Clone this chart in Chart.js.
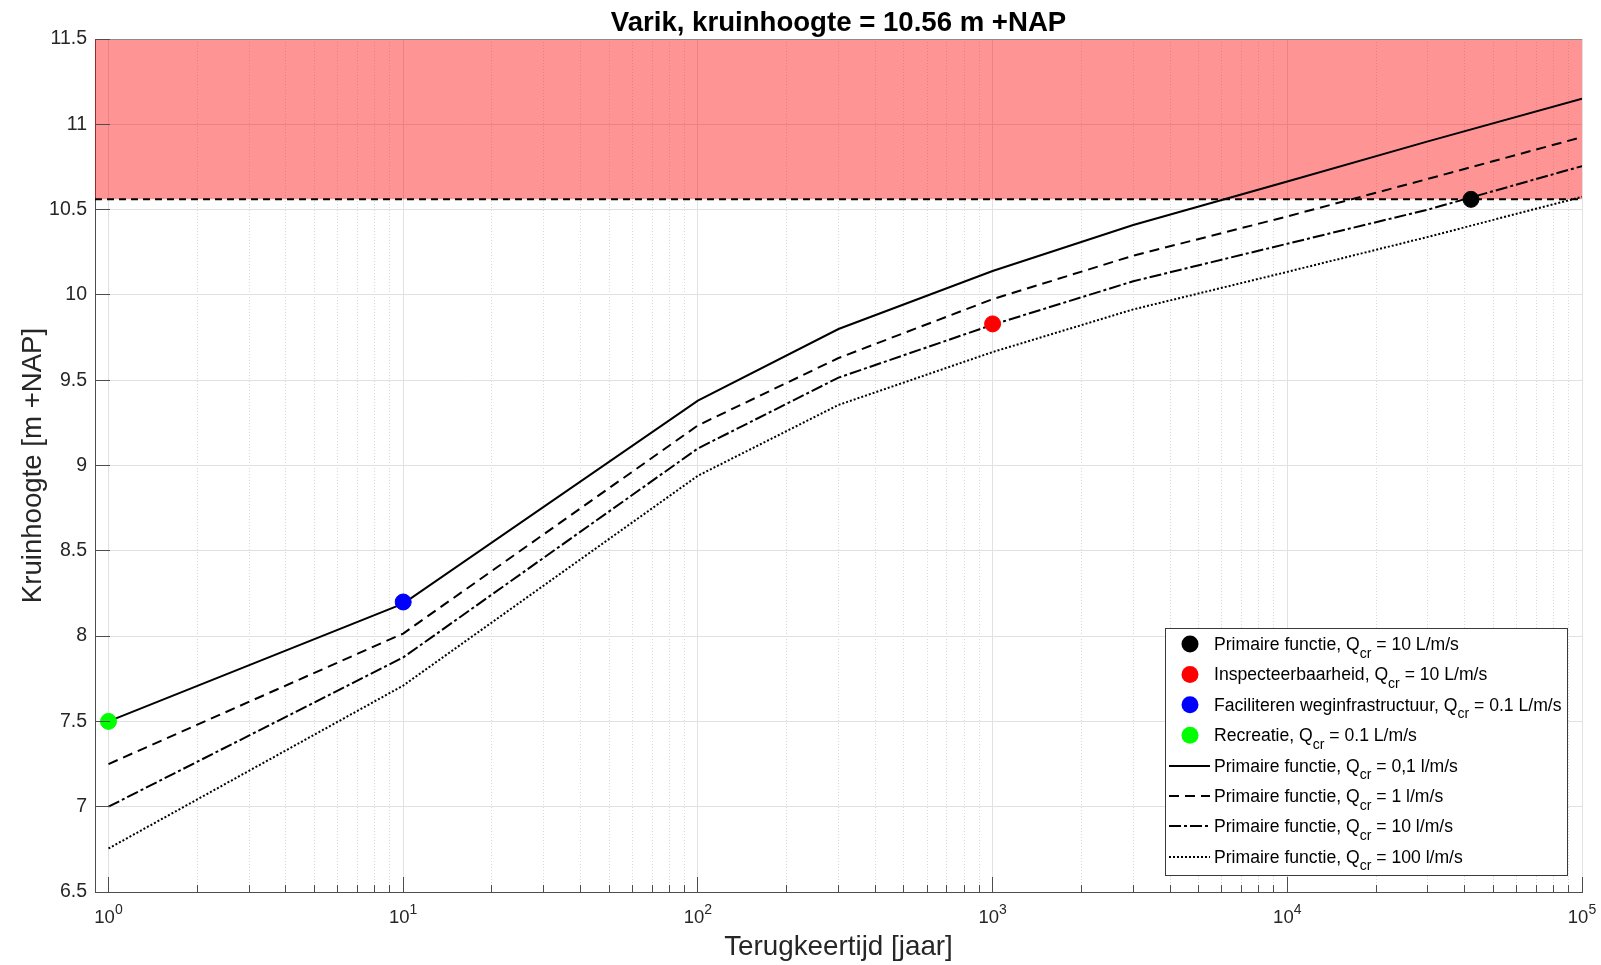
<!DOCTYPE html>
<html>
<head>
<meta charset="utf-8">
<title>Varik, kruinhoogte</title>
<script src="https://cdn.jsdelivr.net/npm/chart.js@4.4.0/dist/chart.umd.min.js"></script>
<style>
  html, body { margin: 0; padding: 0; background: #ffffff; overflow: hidden; }
  canvas { display: block; }
</style>
</head>
<body>
<canvas id="chart" width="1601" height="965"></canvas>
<script>
// Return periods (years) at which the crest heights were computed
const returnPeriods = [1, 10, 100, 300, 1000, 3000, 10000, 30000, 100000];

// Required crest height [m +NAP] per critical overtopping discharge
const crestQ01  = [7.50, 8.19, 9.38, 9.80, 10.14, 10.41, 10.665, 10.90, 11.15];
const crestQ1   = [7.25, 8.015, 9.235, 9.63, 9.975, 10.23, 10.46, 10.68, 10.925];
const crestQ10  = [7.00, 7.875, 9.10, 9.515, 9.825, 10.08, 10.30, 10.50, 10.755];
const crestQ100 = [6.755, 7.71, 8.94, 9.355, 9.665, 9.915, 10.135, 10.34, 10.575];
const curveQcr  = ['0,1 l/m/s', '1 l/m/s', '10 l/m/s', '100 l/m/s'];

// Dike functions and the return period met by the present crest
const functionNames   = ['Primaire functie', 'Inspecteerbaarheid', 'Faciliteren weginfrastructuur', 'Recreatie'];
const functionQcr     = ['10 L/m/s', '10 L/m/s', '0.1 L/m/s', '0.1 L/m/s'];
const functionPeriods = [42000, 1000, 10, 1];
const functionCrest   = [10.56, 9.83, 8.20, 7.50];
const functionColors  = ['#000000', '#ff0000', '#0000ff', '#00ff00'];

// Present crest height and axis ranges / ticks
const crestHeight = 10.56;
const xRange = [0.9, 100000];
const yRange = [6.5, 11.5];
const yStep = 0.5;
const xDecades = [1, 10, 100, 1000, 10000, 100000];
const xDecadeExponents = ['0', '1', '2', '3', '4', '5'];

const FONT = "'Liberation Sans', Arial, Helvetica, sans-serif";
const TEXT = '#262626';
const AXIS = '#4d4d4d';
const LEGEND_SIZE = 17.6;
const LEGEND_SUB = 14;

// Decade ticks plus the 2..9 minor ticks inside each decade
const xTickValues = [];
xDecades.forEach((d, i) => {
  xTickValues.push(d);
  if (i < xDecades.length - 1) for (let k = 2; k <= 9; k++) xTickValues.push(d * k);
});
const isDecade = v => xDecades.includes(v);

const toPoints = ys => returnPeriods.map((x, i) => ({ x, y: ys[i] }));

const curveStyles = [
  { data: crestQ01,  dash: [] },
  { data: crestQ1,   dash: [10, 6] },
  { data: crestQ10,  dash: [12, 3, 3, 3] },
  { data: crestQ100, dash: [2, 2] }
];

const datasets = [];
// function markers (first = drawn on top)
functionNames.forEach((name, i) => {
  datasets.push({
    type: 'line',
    label: name,
    data: [{ x: functionPeriods[i], y: functionCrest[i] }],
    showLine: false,
    pointRadius: 8,
    pointBorderWidth: 1,
    pointBackgroundColor: functionColors[i],
    pointBorderColor: functionColors[i]
  });
});
// crest-height curves
curveStyles.forEach((c, i) => {
  datasets.push({
    type: 'line',
    label: 'Primaire functie, Qcr = ' + curveQcr[i],
    data: toPoints(c.data),
    borderColor: '#000000',
    borderWidth: 2,
    borderDash: c.dash,
    pointRadius: 0,
    tension: 0,
    fill: false
  });
});
// present crest height
datasets.push({
  type: 'line',
  label: 'kruinhoogte',
  data: [{ x: xRange[0], y: crestHeight }, { x: xRange[1], y: crestHeight }],
  borderColor: '#000000',
  borderWidth: 2,
  borderDash: [7, 5],
  pointRadius: 0,
  fill: false
});
// band above the present crest
datasets.push({
  type: 'line',
  label: 'boven kruin',
  data: [{ x: xRange[0], y: yRange[1] }, { x: xRange[1], y: yRange[1] }],
  borderWidth: 0,
  borderColor: 'rgba(0,0,0,0)',
  backgroundColor: 'rgba(255,0,0,0.42)',
  pointRadius: 0,
  fill: { value: crestHeight }
});

// Inward tick marks, superscript decade labels, top edge and the legend
const axesDecor = {
  id: 'axesDecor',
  afterDraw(chart) {
    const { ctx, chartArea: a, scales: { x, y } } = chart;
    const al = p => Math.round(p - 0.5) + 0.5;
    const seg = (x1, y1, x2, y2) => { ctx.beginPath(); ctx.moveTo(x1, y1); ctx.lineTo(x2, y2); ctx.stroke(); };
    ctx.save();

    ctx.lineWidth = 1;
    ctx.strokeStyle = '#8c8c8c';
    seg(a.left, al(a.top), a.right, al(a.top));

    ctx.strokeStyle = AXIS;
    x.ticks.forEach(t => {
      const px = al(x.getPixelForValue(t.value));
      seg(px, a.bottom, px, a.bottom - (isDecade(t.value) ? 15 : 7));
    });
    y.ticks.forEach(t => {
      const py = al(y.getPixelForValue(t.value));
      seg(a.left, py, a.left + 15, py);
    });

    // decade labels 10^n
    ctx.fillStyle = TEXT;
    ctx.textBaseline = 'alphabetic';
    ctx.textAlign = 'left';
    xDecades.forEach((v, i) => {
      const px = x.getPixelForValue(v);
      ctx.font = '18.5px ' + FONT;
      const wb = ctx.measureText('10').width;
      ctx.font = '14px ' + FONT;
      const we = ctx.measureText(xDecadeExponents[i]).width;
      const left = px - (wb + we) / 2;
      ctx.font = '18.5px ' + FONT;
      ctx.fillText('10', left, 923);
      ctx.font = '14px ' + FONT;
      ctx.fillText(xDecadeExponents[i], left + wb, 914);
    });

    // legend
    const box = { l: 1165, t: 628, r: 1568, b: 876 };
    ctx.fillStyle = '#ffffff';
    ctx.fillRect(box.l, box.t, box.r - box.l, box.b - box.t);
    ctx.strokeStyle = '#3a3a3a';
    ctx.strokeRect(box.l + 0.5, box.t + 0.5, box.r - box.l - 1, box.b - box.t - 1);

    const rowBase = 650, rowStep = 30.4, textX = 1214;
    const rich = (yb, parts) => {
      let cx = textX;
      ctx.fillStyle = '#000000';
      parts.forEach(([s, size, dy]) => {
        ctx.font = size + 'px ' + FONT;
        ctx.fillText(s, cx, yb + dy);
        cx += ctx.measureText(s).width;
      });
    };
    functionNames.forEach((name, i) => {
      const yb = rowBase + i * rowStep;
      const yc = yb - 6;
      ctx.fillStyle = functionColors[i];
      ctx.beginPath(); ctx.arc(1190, yc, 8.5, 0, Math.PI * 2); ctx.fill();
      rich(yb, [[name + ', Q', LEGEND_SIZE, 0], ['cr', LEGEND_SUB, 7.5], [' = ' + functionQcr[i], LEGEND_SIZE, 0]]);
    });
    curveStyles.forEach((c, i) => {
      const yb = rowBase + (functionNames.length + i) * rowStep;
      const yc = Math.round(yb - 6);
      ctx.strokeStyle = '#000000';
      ctx.lineWidth = 2;
      ctx.setLineDash(c.dash);
      seg(1169, yc, 1210, yc);
      ctx.setLineDash([]);
      rich(yb, [['Primaire functie, Q', LEGEND_SIZE, 0], ['cr', LEGEND_SUB, 7.5], [' = ' + curveQcr[i], LEGEND_SIZE, 0]]);
    });

    ctx.restore();
  }
};

new Chart(document.getElementById('chart'), {
  type: 'line',
  data: { datasets },
  plugins: [axesDecor],
  options: {
    responsive: false,
    animation: false,
    devicePixelRatio: 1,
    events: [],
    layout: { padding: { left: 0, right: 19, top: 0, bottom: 0 } },
    plugins: {
      legend: { display: false },
      tooltip: { enabled: false },
      title: {
        display: true,
        fullSize: false,
        text: 'Varik, kruinhoogte = ' + crestHeight.toFixed(2) + ' m +NAP',
        color: '#000000',
        font: { family: FONT, size: 27.6, weight: 'bold', lineHeight: 1 },
        padding: { top: 10, bottom: 1.4 }
      }
    },
    scales: {
      x: {
        type: 'logarithmic',
        min: xRange[0],
        max: xRange[1],
        afterBuildTicks: s => { s.ticks = xTickValues.map(v => ({ value: v, major: isDecade(v) })); },
        afterFit: s => { s.height = 73; },
        ticks: { display: false },
        grid: {
          drawTicks: false,
          lineWidth: 1,
          color: c => (c.tick && isDecade(c.tick.value)) ? '#e1e1e1' : '#d9d9d9'
        },
        border: {
          display: true,
          color: AXIS,
          width: 1,
          dash: c => (c.tick && !isDecade(c.tick.value)) ? [1, 2] : []
        },
        title: {
          display: true,
          text: 'Terugkeertijd [jaar]',
          color: TEXT,
          font: { family: FONT, size: 27.8, lineHeight: 1 },
          padding: { top: 0, bottom: 4 }
        }
      },
      y: {
        type: 'linear',
        min: yRange[0],
        max: yRange[1],
        afterFit: s => { s.width = 95; },
        ticks: {
          stepSize: yStep,
          color: TEXT,
          padding: 8,
          font: { family: FONT, size: 19.5 },
          callback: v => String(Math.round(v * 10) / 10)
        },
        grid: { drawTicks: false, lineWidth: 1, color: '#e1e1e1' },
        border: { display: true, color: AXIS, width: 1 },
        title: {
          display: true,
          text: 'Kruinhoogte [m +NAP]',
          color: TEXT,
          font: { family: FONT, size: 27.6, lineHeight: 1 },
          padding: { top: 20, bottom: 0 }
        }
      }
    }
  }
});
</script>
</body>
</html>
